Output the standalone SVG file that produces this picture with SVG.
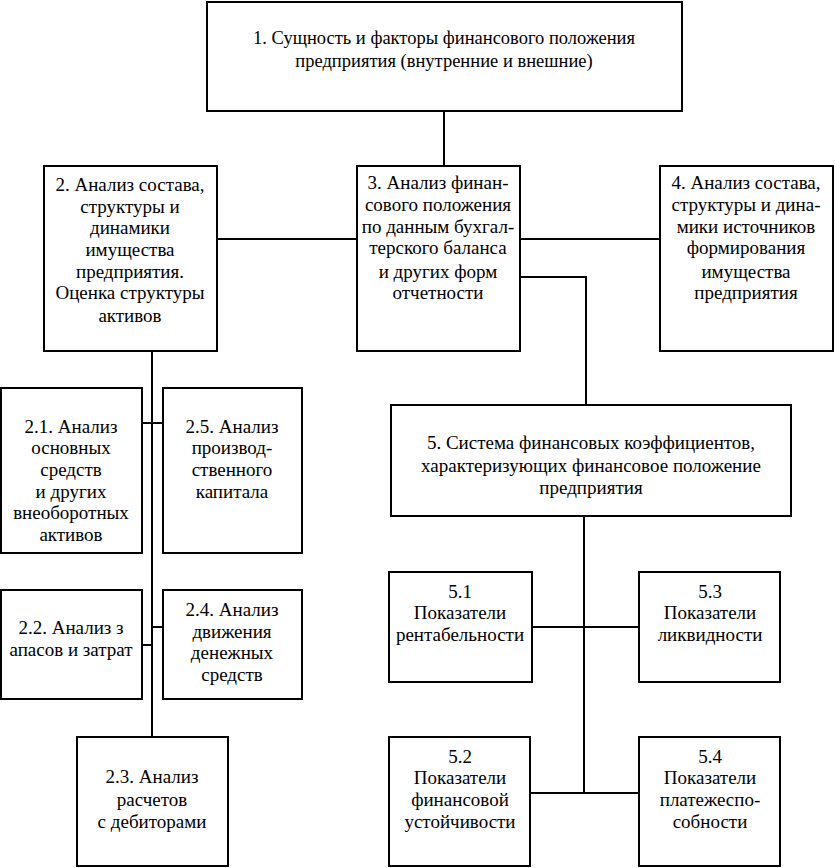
<svg xmlns="http://www.w3.org/2000/svg" width="835" height="868" viewBox="0 0 835 868">
<style>
rect{fill:#fff;stroke:#000;stroke-width:2}
text{font-family:"Liberation Serif","Times New Roman",serif;font-size:19px;fill:#000;text-anchor:middle}
#n1 text{font-size:18.5px}
#connectors path{fill:none;stroke:#000;stroke-width:2}
</style>
<rect x="0" y="0" width="835" height="868" style="stroke:none"/>
<g id="connectors">
<path d="M444 111V167"/>
<path d="M217 239H357"/>
<path d="M520 239H660"/>
<path d="M520 277H586V405"/>
<path d="M152 351V737"/>
<path d="M142 423H163"/>
<path d="M152 627H163"/>
<path d="M142 645H152"/>
<path d="M584 516V793"/>
<path d="M532 627H639"/>
<path d="M530 793H639"/>
</g>
<g id="n1"><rect x="207" y="2" width="475" height="109"/>
<text x="444" y="44">1. Сущность и факторы финансового положения</text>
<text x="444" y="67">предприятия (внутренние и внешние)</text></g>
<g id="n2"><rect x="44" y="166" width="173" height="185"/>
<text x="130" y="191">2. Анализ состава,</text>
<text x="130" y="213">структуры и</text>
<text x="130" y="234">динамики</text>
<text x="130" y="256">имущества</text>
<text x="130" y="278">предприятия.</text>
<text x="130" y="299">Оценка структуры</text>
<text x="130" y="322">активов</text></g>
<g id="n3"><rect x="357" y="166" width="163" height="185"/>
<text x="438" y="189">3. Анализ финан-</text>
<text x="438" y="211">сового положения</text>
<text x="438" y="233">по данным бухгал-</text>
<text x="438" y="254">терского баланса</text>
<text x="438" y="278">и других форм</text>
<text x="438" y="299">отчетности</text></g>
<g id="n4"><rect x="660" y="166" width="173" height="185"/>
<text x="746" y="189">4. Анализ состава,</text>
<text x="746" y="211">структуры и дина-</text>
<text x="746" y="233">мики источников</text>
<text x="746" y="254">формирования</text>
<text x="746" y="278">имущества</text>
<text x="746" y="299">предприятия</text></g>
<g id="n5"><rect x="391" y="405" width="400" height="111"/>
<text x="591" y="449">5. Система финансовых коэффициентов,</text>
<text x="591" y="472">характеризующих финансовое положение</text>
<text x="591" y="494">предприятия</text></g>
<g id="n21"><rect x="1" y="388" width="141" height="165"/>
<text x="71" y="433">2.1. Анализ</text>
<text x="71" y="454">основных</text>
<text x="71" y="476">средств</text>
<text x="71" y="498">и других</text>
<text x="71" y="519">внеоборотных</text>
<text x="71" y="541">активов</text></g>
<g id="n25"><rect x="163" y="388" width="139" height="165"/>
<text x="232" y="433">2.5. Анализ</text>
<text x="232" y="454">производ-</text>
<text x="232" y="476">ственного</text>
<text x="232" y="498">капитала</text></g>
<g id="n22"><rect x="1" y="590" width="141" height="109"/>
<text x="71" y="634">2.2. Анализ з</text>
<text x="71" y="656">апасов и затрат</text></g>
<g id="n24"><rect x="163" y="590" width="139" height="109"/>
<text x="232" y="616">2.4. Анализ</text>
<text x="232" y="638">движения</text>
<text x="232" y="659">денежных</text>
<text x="232" y="681">средств</text></g>
<g id="n23"><rect x="77" y="737" width="151" height="129"/>
<text x="152" y="783">2.3. Анализ</text>
<text x="152" y="806">расчетов</text>
<text x="152" y="828">с дебиторами</text></g>
<g id="n51"><rect x="389" y="572" width="143" height="110"/>
<text x="460" y="598">5.1</text>
<text x="460" y="619">Показатели</text>
<text x="460" y="641">рентабельности</text></g>
<g id="n53"><rect x="639" y="572" width="141" height="110"/>
<text x="710" y="598">5.3</text>
<text x="710" y="619">Показатели</text>
<text x="710" y="641">ликвидности</text></g>
<g id="n52"><rect x="389" y="737" width="141" height="129"/>
<text x="460" y="763">5.2</text>
<text x="460" y="784">Показатели</text>
<text x="460" y="806">финансовой</text>
<text x="460" y="828">устойчивости</text></g>
<g id="n54"><rect x="639" y="737" width="141" height="129"/>
<text x="710" y="763">5.4</text>
<text x="710" y="784">Показатели</text>
<text x="710" y="806">платежеспо-</text>
<text x="710" y="828">собности</text></g>
</svg>
